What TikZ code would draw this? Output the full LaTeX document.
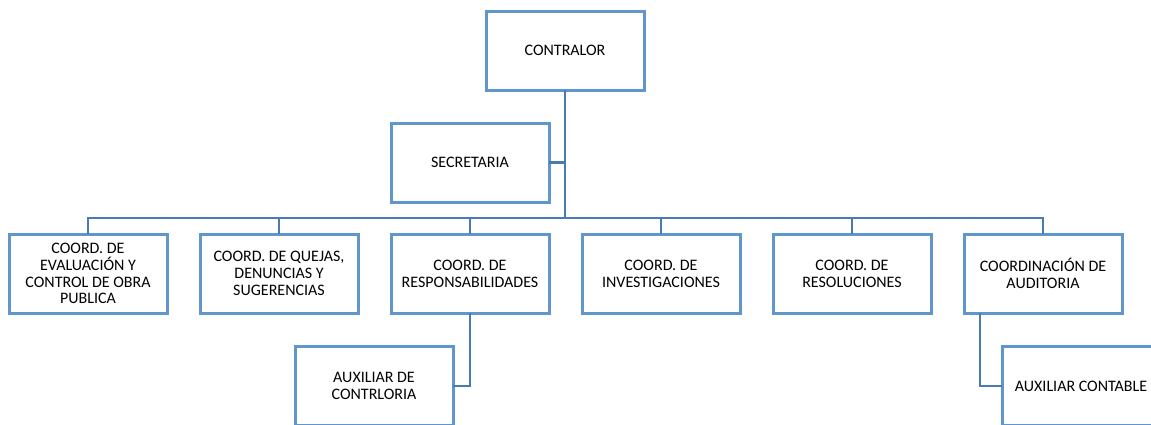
\documentclass[tikz,border=0pt]{standalone}
\usepackage{fontspec}
\setmainfont{Carlito}
\usetikzlibrary{positioning}
\definecolor{boxblue}{RGB}{96,150,204}
\definecolor{lineblue}{RGB}{72,124,176}

\begin{document}
\begin{tikzpicture}[x=1pt, y=1pt, node distance={33pt},
        unit/.style = {draw=boxblue, line width=3pt, fill=white, outer sep=0pt,
                       minimum width=158pt, minimum height=79pt, align=center,
                       font=\fontsize{16}{16.8}\selectfont},
        link/.style = {draw=lineblue, line width=2.5pt}]
    \useasboundingbox (0,0) rectangle (1151,-424);
    \clip (0,0) rectangle (1151,-424);
    % top level
    \node[unit] (contralor) at (565,-50.5) {CONTRALOR};
    \node[unit] (secretaria) at (470,-162.5) {SECRETARIA};
    \coordinate (bus) at (565,-218);
    % coordinations
    \node[unit] (obra) at (88,-273.5) {COORD. DE\\EVALUACIÓN Y\\CONTROL DE OBRA\\PUBLICA};
    \node[unit] (quejas) [right=of obra] {COORD. DE QUEJAS,\\DENUNCIAS Y\\SUGERENCIAS};
    \node[unit] (resp) [right=of quejas] {COORD. DE\\RESPONSABILIDADES};
    \node[unit] (invest) [right=of resp] {COORD. DE\\INVESTIGACIONES};
    \node[unit] (resol) [right=of invest] {COORD. DE\\RESOLUCIONES};
    \node[unit] (audit) [right=of resol] {COORDINACIÓN DE\\AUDITORIA};
    % auxiliaries
    \node[unit] (auxcontr) at (374,-386) {AUXILIAR DE\\CONTRLORIA};
    \node[unit] (auxcont) at (1081,-386) {AUXILIAR CONTABLE};
    % connectors
    \draw[link] (secretaria.east) -- (secretaria.east -| contralor.south);
    \foreach \child in {obra, quejas, resp, invest, resol, audit}
        \draw[link] (contralor.south) -- (bus) -| (\child.north);
    \draw[link] (resp.south) |- (auxcontr.east);
    \draw[link] ([xshift=-63pt]audit.south) |- (auxcont.west);
\end{tikzpicture}
\end{document}
